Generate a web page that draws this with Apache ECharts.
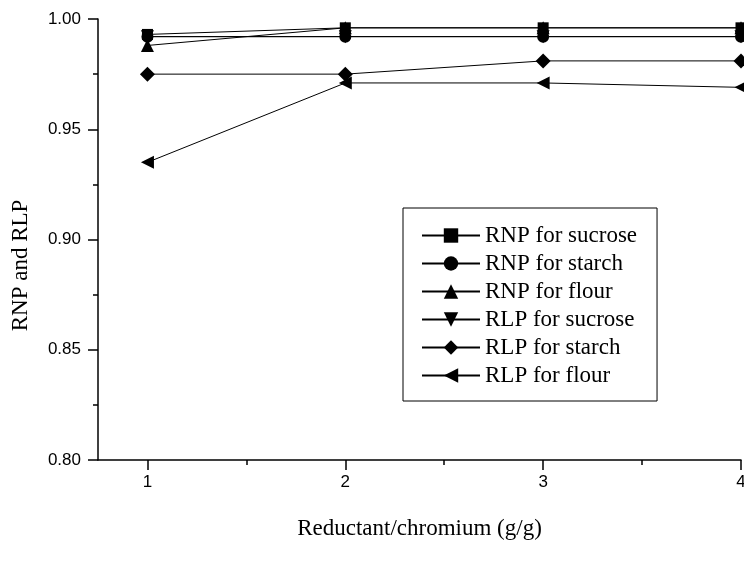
<!DOCTYPE html>
<html>
<head>
<meta charset="utf-8">
<script src="https://cdn.jsdelivr.net/npm/echarts@6/dist/echarts.min.js"></script>
<style>
  html, body { margin: 0; padding: 0; background: #fff; }
  #chart { width: 744px; height: 561px; }
</style>
</head>
<body>
<div id="chart"></div>
<script>
(function(){
  // ratios of reductant to chromium
  var ratios = [1, 2, 3, 4];
  var rnpSucrose = [0.993, 0.996, 0.996, 0.996];
  var rnpStarch  = [0.992, 0.992, 0.992, 0.992];
  var rnpFlour   = [0.988, 0.996, 0.996, 0.996];
  var rlpSucrose = [0.992, 0.992, 0.992, 0.992];
  var rlpStarch  = [0.975, 0.975, 0.981, 0.981];
  var rlpFlour   = [0.935, 0.971, 0.971, 0.969];
  var xMajor = [1, 2, 3, 4];
  var xMinor = [1.5, 2.5, 3.5];

  function pairs(vals) {
    return ratios.map(function(x, i){ return [x, vals[i]]; });
  }
  function line(name, vals, symbol, size, rotate) {
    return {
      name: name,
      type: 'line',
      data: pairs(vals),
      symbol: symbol,
      symbolSize: size,
      symbolRotate: rotate || 0,
      clip: false,
      lineStyle: { color: '#000', width: 1 },
      itemStyle: { color: '#000' }
    };
  }

  var serif = 'Liberation Serif, Times New Roman, serif';
  var sans = 'Liberation Sans, Arial, sans-serif';

  var myChart = echarts.init(document.getElementById('chart'));
  var option = {
    animation: false,
    grid: { left: 98, right: 3, top: 19, bottom: 101, outerBoundsMode: 'none', containLabel: false },
    legend: {
      orient: 'vertical',
      left: 403,
      top: 208,
      padding: [16, 20, 14, 18],
      itemWidth: 58,
      itemHeight: 18,
      itemGap: 5,
      borderColor: '#000',
      borderWidth: 1,
      textStyle: { fontFamily: serif, fontSize: 23, color: '#000' }
    },
    xAxis: [
      {
        type: 'value',
        min: 0.75,
        max: 4,
        name: 'Reductant/chromium (g/g)',
        nameLocation: 'middle',
        nameGap: 57,
        nameTextStyle: { fontFamily: serif, fontSize: 23, color: '#000' },
        axisLine: { lineStyle: { color: '#000', width: 1.5 } },
        axisTick: { customValues: xMajor, length: 10, lineStyle: { color: '#000', width: 1.5 } },
        axisLabel: { customValues: xMajor, margin: 14, fontFamily: sans, fontSize: 17, color: '#000' },
        splitLine: { show: false }
      },
      {
        type: 'value',
        position: 'bottom',
        min: 0.75,
        max: 4,
        axisLine: { show: false },
        axisTick: { customValues: xMinor, length: 5, lineStyle: { color: '#000', width: 1.5 } },
        axisLabel: { show: false },
        splitLine: { show: false }
      }
    ],
    yAxis: {
      type: 'value',
      min: 0.8,
      max: 1.0,
      interval: 0.05,
      name: 'RNP and RLP',
      nameLocation: 'middle',
      nameGap: 66,
      nameTextStyle: { fontFamily: serif, fontSize: 23, color: '#000', padding: [0, 52, 0, 0] },
      axisLine: { show: true, lineStyle: { color: '#000', width: 1.5 } },
      axisTick: { show: true, length: 10, lineStyle: { color: '#000', width: 1.5 } },
      minorTick: { show: true, splitNumber: 2, length: 5, lineStyle: { color: '#000', width: 1.5 } },
      axisLabel: {
        margin: 17,
        fontFamily: sans,
        fontSize: 17,
        color: '#000',
        formatter: function(v){ return v.toFixed(2); }
      },
      splitLine: { show: false }
    },
    series: [
      line('RNP for sucrose', rnpSucrose, 'rect', 11),
      line('RNP for starch', rnpStarch, 'circle', 12),
      line('RNP for flour', rnpFlour, 'triangle', 13),
      line('RLP for sucrose', rlpSucrose, 'triangle', 13, 180),
      line('RLP for starch', rlpStarch, 'diamond', 15),
      line('RLP for flour', rlpFlour, 'triangle', 13, 90)
    ]
  };
  myChart.setOption(option);
})();
</script>
</body>
</html>
